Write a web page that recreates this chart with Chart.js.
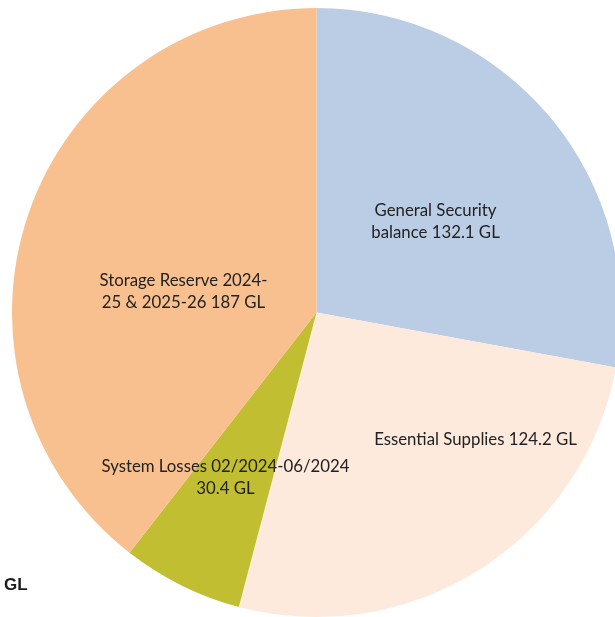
<!DOCTYPE html>
<html>
<head>
<meta charset="utf-8">
<script src="https://cdn.jsdelivr.net/npm/chart.js@4"></script>
<style>
  html,body{margin:0;padding:0;background:#fff;overflow:hidden;}
  #wrap{position:relative;width:615px;height:617px;overflow:hidden;}
  #chart{position:absolute;left:0;top:0;}
  #unit{position:absolute;left:4px;top:575px;font:bold 17px "Liberation Sans",Arial,sans-serif;color:#1a1a1a;}
</style>
</head>
<body>
<div id="wrap">
  <canvas id="chart" width="622" height="617"></canvas>
  <div id="unit">GL</div>
</div>
<script>
// ---- data ----
const categories = [
  'General Security balance',
  'Essential Supplies',
  'System Losses 02/2024-06/2024',
  'Storage Reserve 2024-25 & 2025-26'
];
const volumes = [132.1, 124.2, 30.4, 187];
const sliceLabels = [
  ['General Security', 'balance 132.1 GL'],
  ['Essential Supplies 124.2 GL'],
  ['System Losses 02/2024-06/2024', '30.4 GL'],
  ['Storage Reserve 2024-', '25 & 2025-26 187 GL']
];

// ---- style ----
const COLORS = ['#BBCCE5', '#FDEADD', '#C2BE31', '#F9C08F'];
// label anchor offsets from pie centre (first line, middle)
const LABEL_POS = [
  {dx:119, dy:-102},
  {dx:159, dy:127},
  {dx:-91, dy:154},
  {dx:-133, dy:-32}
];
const LINE_H = 22;

const sliceLabelPlugin = {
  id:'sliceLabels',
  afterDatasetsDraw(chart){
    const ctx = chart.ctx;
    const arc = chart.getDatasetMeta(0).data[0];
    const cx = arc.x, cy = arc.y;
    ctx.save();
    ctx.font = '16.8px Lato, sans-serif';
    ctx.fillStyle = '#222';
    ctx.textAlign = 'center';
    ctx.textBaseline = 'middle';
    sliceLabels.forEach((lines,i)=>{
      const p = LABEL_POS[i];
      lines.forEach((t,j)=> ctx.fillText(t, cx+p.dx, cy+p.dy+j*LINE_H));
    });
    ctx.restore();
  }
};

new Chart(document.getElementById('chart'), {
  type:'pie',
  data:{ labels: categories, datasets:[{ data: volumes, backgroundColor: COLORS, borderWidth:0 }] },
  options:{
    responsive:false, animation:false,
    layout:{ padding:{ left:11, top:8, right:0, bottom:0 } },
    plugins:{ legend:{ display:false }, tooltip:{ enabled:false } }
  },
  plugins:[sliceLabelPlugin]
});
</script>
</body>
</html>
